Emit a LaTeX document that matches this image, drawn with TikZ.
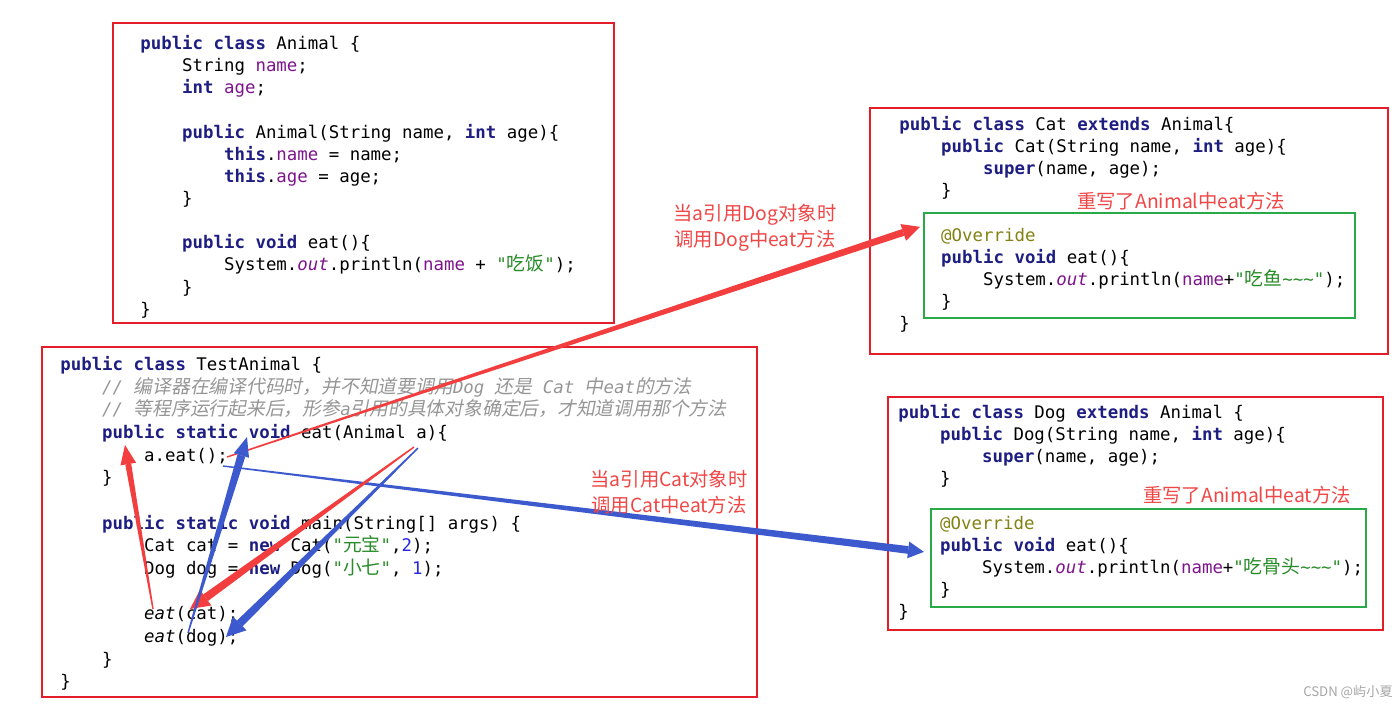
\documentclass[tikz,border=0pt]{standalone}
\usepackage{fontspec}
\usetikzlibrary{calc}

\newfontfamily\codefont{DejaVu Sans Mono}
\newfontfamily\notefont{Noto Sans CJK SC}
\newfontfamily\cjk{Noto Sans CJK SC}[Scale=1.08]
\newfontfamily\cjkit{Noto Sans CJK SC}[Scale=1.08,FakeSlant=0.2]

\definecolor{kwblue}{RGB}{30,30,130}
\definecolor{fieldpurple}{RGB}{125,20,140}
\definecolor{strgreen}{RGB}{40,140,40}
\definecolor{cmtgray}{RGB}{150,150,150}
\definecolor{annolive}{RGB}{130,130,20}
\definecolor{numblue}{RGB}{40,40,230}
\definecolor{boxred}{RGB}{228,30,40}
\definecolor{boxgreen}{RGB}{40,170,70}
\definecolor{arrred}{RGB}{242,62,62}
\definecolor{arrblue}{RGB}{60,90,205}
\definecolor{notered}{RGB}{240,70,70}

\newcommand{\kwd}[1]{{\bfseries\color{kwblue}#1}}
\newcommand{\fld}[1]{{\color{fieldpurple}#1}}
\newcommand{\strl}[1]{{\color{strgreen}#1}}
\newcommand{\cmt}[1]{{\itshape\color{cmtgray}#1}}
\newcommand{\numl}[1]{{\color{numblue}#1}}
\newcommand{\anno}[1]{{\color{annolive}#1}}
\newcommand{\outfld}{{\itshape\color{fieldpurple}out}}
\newcommand{\ind}{\hspace*{2.408em}}

% colour, start, tip, shaft half-width, head half-width, head length
\newcommand{\taperarrow}[6]{%
  \coordinate (neck) at ($(#3)!#6!(#2)$);
  \fill[#1] ($(#2)!0.4pt!90:(#3)$) -- ($(neck)!#4!-90:(#2)$)
    -- ($(neck)!#4!90:(#2)$) -- ($(#2)!0.4pt!-90:(#3)$) -- cycle;
  \fill[#1] (#3) -- ($(neck)!#5!90:(#3)$) -- ($(neck)!#5!-90:(#3)$) -- cycle;
}

\begin{document}
\begin{tikzpicture}[x=0.02cm, y=-0.02cm,
  redbox/.style={draw=boxred, line width=1.3pt, inner sep=0pt},
  greenbox/.style={draw=boxgreen, line width=1.3pt, inner sep=0pt},
  code/.style={anchor=north west, inner sep=0pt, align=left,
    font=\codefont\fontsize{9.9pt}{12.6pt}\selectfont},
  note/.style={text=notered, align=center, inner sep=0pt,
    font=\notefont\fontsize{11pt}{15pt}\selectfont}
]
  \fill[white] (0,0) rectangle (1400,706);
  \useasboundingbox (0,0) rectangle (1400,706);

  \node[redbox, minimum width=10.02cm, minimum height=6cm] (animal) at (363.5,173) {};
  \node[redbox, minimum width=14.3cm, minimum height=7cm] (test) at (399.5,522) {};
  \node[redbox, minimum width=10.36cm, minimum height=4.92cm] (cat) at (1129,231) {};
  \node[greenbox, minimum width=8.62cm, minimum height=2.1cm] (catover) at (1139.5,265.5) {};
  \node[redbox, minimum width=9.9cm, minimum height=4.66cm] (dog) at (1135.5,513.5) {};
  \node[greenbox, minimum width=8.7cm, minimum height=1.96cm] (dogover) at (1148.5,558) {};

  \node[code] (animalcode) at (140,35) {%
    \kwd{public class} Animal \{\\
    \ind String \fld{name};\\
    \ind\kwd{int} \fld{age};\\
    \mbox{}\\
    \ind\kwd{public} Animal(String name, \kwd{int} age)\{\\
    \ind\ind\kwd{this}.\fld{name} = name;\\
    \ind\ind\kwd{this}.\fld{age} = age;\\
    \ind\}\\
    \mbox{}\\
    \ind\kwd{public void} eat()\{\\
    \ind\ind System.\outfld.println(\fld{name} + \strl{"{\cjk 吃饭}"});\\
    \ind\}\\
    \}};

  \node[code, font=\codefont\fontsize{9.9pt}{12.9pt}\selectfont] (testcode) at (60,356) {%
    \kwd{public class} TestAnimal \{\\
    \ind\cmt{// {\cjkit 编译器在编译代码时，并不知道要调用}Dog {\cjkit 还是} Cat {\cjkit 中}eat{\cjkit 的方法}}\\
    \ind\cmt{// {\cjkit 等程序运行起来后，形参}a{\cjkit 引用的具体对象确定后，才知道调用那个方法}}\\
    \ind\kwd{public static void} eat(Animal a)\{\\
    \ind\ind a.eat();\\
    \ind\}\\
    \mbox{}\\
    \ind\kwd{public static void} main(String[] args) \{\\
    \ind\ind Cat cat = \kwd{new} Cat(\strl{"{\cjk 元宝}"},\numl{2});\\
    \ind\ind Dog dog = \kwd{new} Dog(\strl{"{\cjk 小七}"}, \numl{1});\\
    \mbox{}\\
    \ind\ind{\itshape eat}(cat);\\
    \ind\ind{\itshape eat}(dog);\\
    \ind\}\\
    \}};

  \node[code] (catcode) at (899,116) {%
    \kwd{public class} Cat \kwd{extends} Animal\{\\
    \ind\kwd{public} Cat(String name, \kwd{int} age)\{\\
    \ind\ind\kwd{super}(name, age);\\
    \ind\}\\
    \mbox{}\\
    \ind\anno{@Override}\\
    \ind\kwd{public void} eat()\{\\
    \ind\ind System.\outfld.println(\fld{name}+\strl{"{\cjk 吃鱼}\textasciitilde\textasciitilde\textasciitilde"});\\
    \ind\}\\
    \}};

  \node[code] (dogcode) at (898,404) {%
    \kwd{public class} Dog \kwd{extends} Animal \{\\
    \ind\kwd{public} Dog(String name, \kwd{int} age)\{\\
    \ind\ind\kwd{super}(name, age);\\
    \ind\}\\
    \mbox{}\\
    \ind\anno{@Override}\\
    \ind\kwd{public void} eat()\{\\
    \ind\ind System.\outfld.println(\fld{name}+\strl{"{\cjk 吃骨头}\textasciitilde\textasciitilde\textasciitilde"});\\
    \ind\}\\
    \}};

  \coordinate (aeat) at (227,457);
  \coordinate (aeatb) at (223,466);
  \coordinate (parama) at (414,447);
  \coordinate (paramab) at (418,448);
  \coordinate (callcat) at (153,609);
  \coordinate (calldog) at (188,633);
  \coordinate (pub) at (125,445);
  \coordinate (void) at (247,437);
  \coordinate (catarg) at (190,609);
  \coordinate (dogarg) at (226,637);
  \coordinate (catin) at ($(catover.north west)+(-3,15)$);
  \coordinate (dogin) at ($(dogover.north west)+(-6,44)$);

  \taperarrow{arrred}{aeat}{catin}{2pt}{5pt}{10pt}
  \taperarrow{arrblue}{aeatb}{dogin}{2.2pt}{4.8pt}{9pt}
  \taperarrow{arrred}{parama}{catarg}{2.3pt}{5.5pt}{11pt}
  \taperarrow{arrblue}{paramab}{dogarg}{2.3pt}{5.5pt}{11pt}
  \taperarrow{arrred}{callcat}{pub}{1.7pt}{4.5pt}{11pt}
  \taperarrow{arrblue}{calldog}{void}{2.3pt}{4.5pt}{11pt}

  \node[note] (dognote) at (755,228) {当a引用Dog对象时\\调用Dog中eat方法};
  \node[note] (catnote) at (669,492) {当a引用Cat对象时\\调用Cat中eat方法};
  \node[note] (catovernote) at (1181,201) {重写了Animal中eat方法};
  \node[note] (dogovernote) at (1247,495) {重写了Animal中eat方法};
  \node[text=gray!70, inner sep=0pt, font=\notefont\fontsize{7.5pt}{9pt}\selectfont]
    (mark) at (1348,692) {CSDN @屿小夏};
\end{tikzpicture}
\end{document}
